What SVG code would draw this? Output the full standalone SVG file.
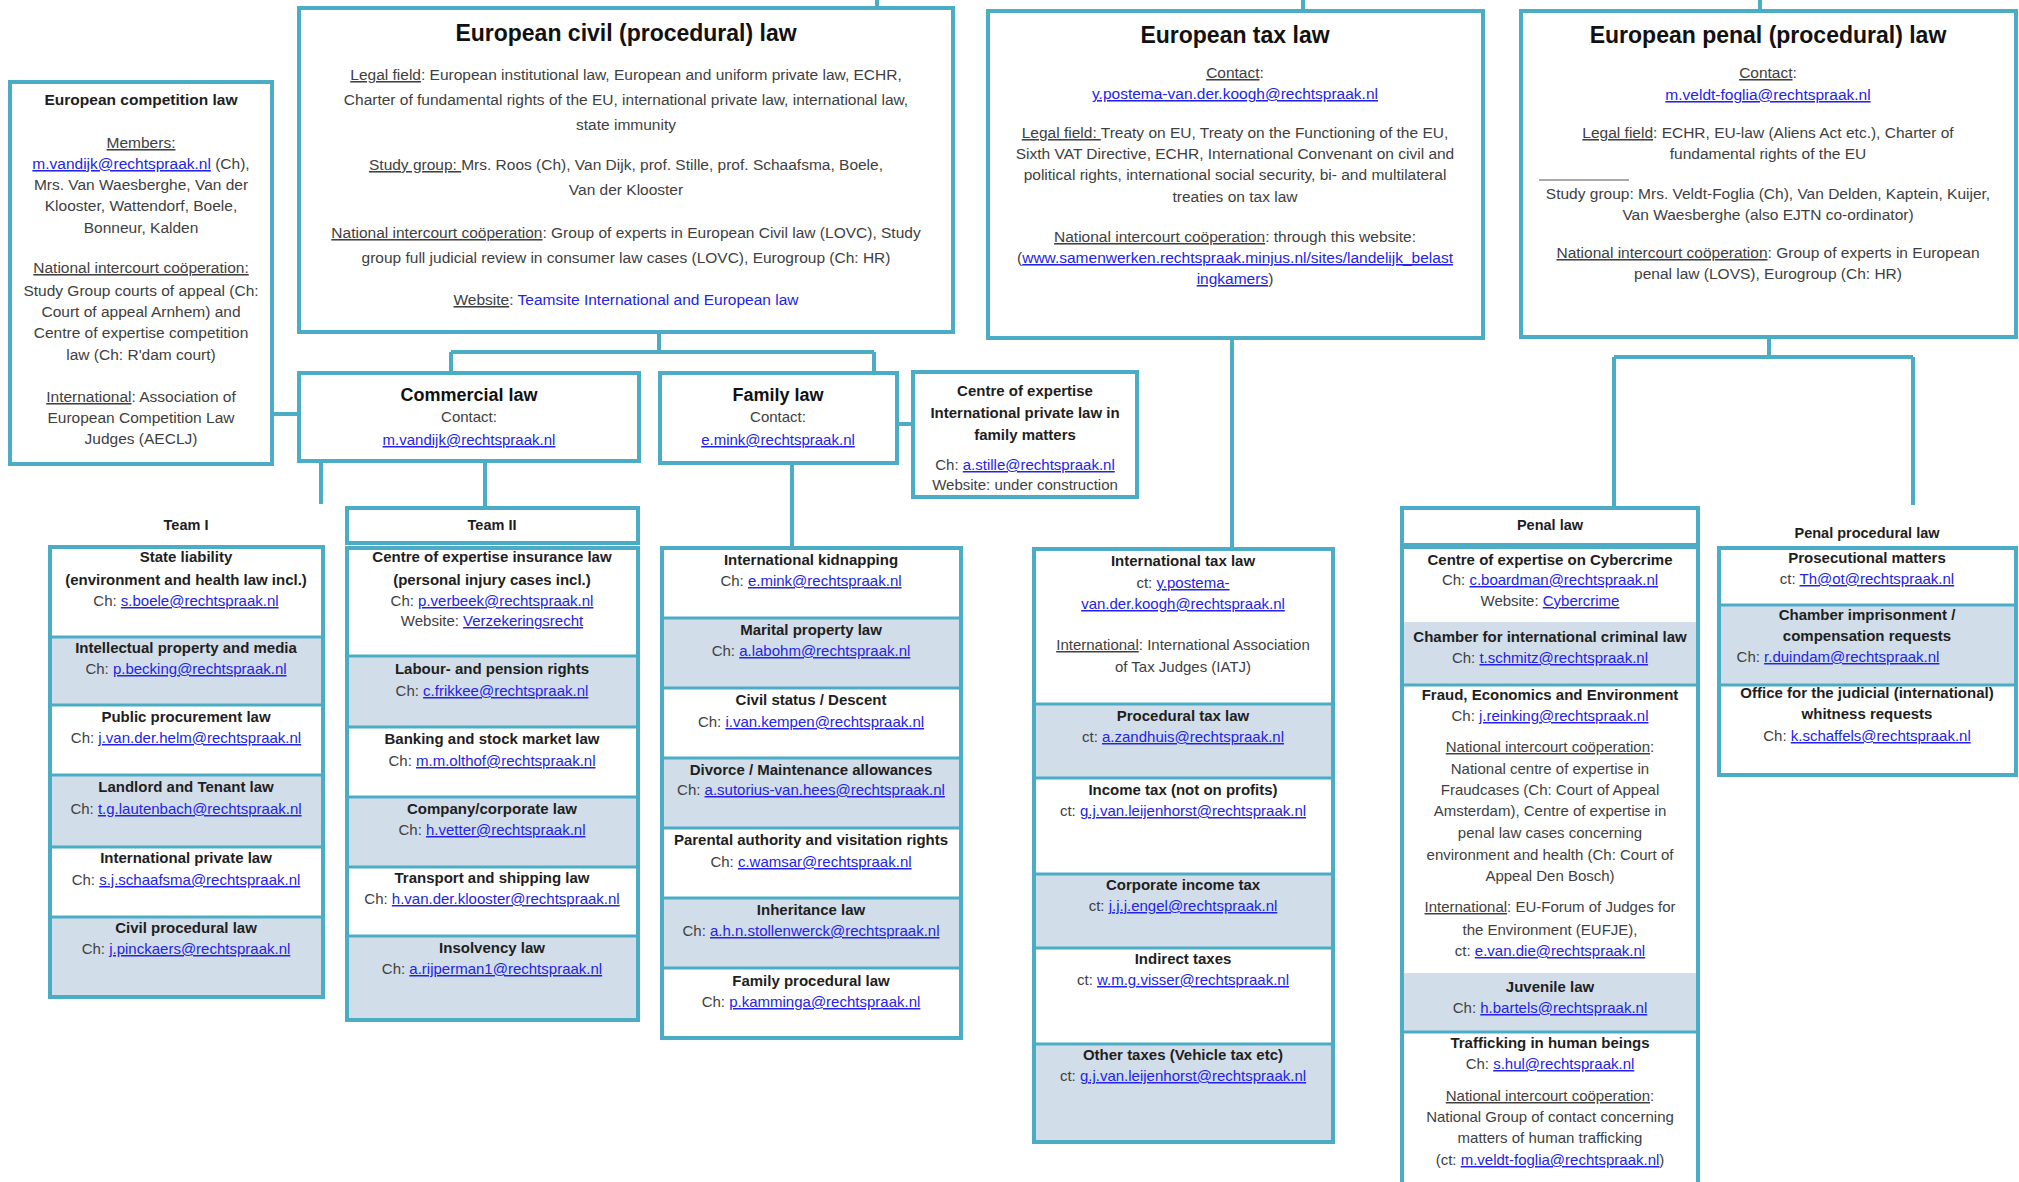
<svg xmlns="http://www.w3.org/2000/svg" width="2019" height="1182" viewBox="0 0 2019 1182">
<style>
text{font-family:"Liberation Sans",Arial,sans-serif;font-size:15px;fill:#404040;text-anchor:middle}
.m{font-size:15.5px}
.b{font-weight:bold;fill:#1e1e1e}
.t{font-size:23px;font-weight:bold;fill:#111}
.h{font-size:18px;font-weight:bold;fill:#111}
.lk{fill:#2323e8;text-decoration:underline}
.bl2{fill:#2323e8}
.u{text-decoration:underline}
.bx{fill:#fff;stroke:#4bacc6;stroke-width:4}
.fr{fill:none;stroke:#4bacc6;stroke-width:4}
.cn{fill:none;stroke:#4bacc6;stroke-width:4}
.sep{stroke:#4bacc6;stroke-width:3}
.rb{fill:#d1dde9}
</style>
<rect width="2019" height="1182" fill="#fff"/>

<g id="connectors">
<path class="cn" d="M877,0V8M1303,0V11M1760,0V11"/>
<path class="cn" d="M272,414H299"/>
<path class="cn" d="M659,332V352M451,352H874M451,352V373M874,352V373"/>
<path class="cn" d="M897,424H913"/>
<path class="cn" d="M321,461V504M485,461V508M792,463V548"/>
<path class="cn" d="M1232,338V549"/>
<path class="cn" d="M1769,337V357M1614,357H1913M1614,357V508M1913,357V505"/>
</g>

<g id="competition">
<rect class="bx" x="10" y="82" width="262" height="382"/>
<text class="m b" x="141" y="105">European competition law</text>
<text class="m u" x="141" y="148">Members:</text>
<text class="m" x="141" y="169"><tspan class="lk">m.vandijk@rechtspraak.nl</tspan> (Ch),</text>
<text class="m" x="141" y="190">Mrs. Van Waesberghe, Van der</text>
<text class="m" x="141" y="211">Klooster, Wattendorf, Boele,</text>
<text class="m" x="141" y="233">Bonneur, Kalden</text>
<text class="m u" x="141" y="273">National intercourt coöperation:</text>
<text class="m" x="141" y="296">Study Group courts of appeal  (Ch:</text>
<text class="m" x="141" y="317">Court of appeal Arnhem) and</text>
<text class="m" x="141" y="338">Centre of expertise competition</text>
<text class="m" x="141" y="360">law (Ch: R'dam court)</text>
<text class="m" x="141" y="402"><tspan class="u">International</tspan>: Association of</text>
<text class="m" x="141" y="423">European Competition Law</text>
<text class="m" x="141" y="444">Judges (AECLJ)</text>
</g>

<g id="civil">
<rect class="bx" x="299" y="8" width="654" height="324"/>
<text class="t" x="626" y="41">European  civil (procedural) law</text>
<text class="m" x="626" y="80"><tspan class="u">Legal field</tspan>: European institutional law, European and uniform private law, ECHR,</text>
<text class="m" x="626" y="105">Charter of fundamental rights of the EU,  international private law, international law,</text>
<text class="m" x="626" y="130">state immunity</text>
<text class="m" x="626" y="170"><tspan class="u">Study group: </tspan>Mrs. Roos (Ch), Van Dijk, prof. Stille, prof. Schaafsma, Boele,</text>
<text class="m" x="626" y="195">Van der Klooster</text>
<text class="m" x="626" y="238"><tspan class="u">National intercourt coöperation</tspan>: Group of experts in European Civil law (LOVC), Study</text>
<text class="m" x="626" y="263">group full judicial review in consumer law cases (LOVC), Eurogroup (Ch:  HR)</text>
<text class="m" x="626" y="305"><tspan class="u">Website</tspan>: <tspan class="bl2">Teamsite International and European law</tspan></text>
</g>

<g id="tax">
<rect class="bx" x="988" y="11" width="495" height="327"/>
<text class="t" x="1235" y="43">European  tax law</text>
<text class="m" x="1235" y="78"><tspan class="u">Contact</tspan>:</text>
<text class="m" x="1235" y="99"><tspan class="lk">y.postema-van.der.koogh@rechtspraak.nl</tspan></text>
<text class="m" x="1235" y="138"><tspan class="u">Legal field: </tspan>Treaty on EU, Treaty on the Functioning of the EU,</text>
<text class="m" x="1235" y="159">Sixth VAT Directive, ECHR,  International Convenant on civil and</text>
<text class="m" x="1235" y="180">political rights, international social security, bi- and multilateral</text>
<text class="m" x="1235" y="202">treaties on tax law</text>
<text class="m" x="1235" y="242"><tspan class="u">National intercourt coöperation</tspan>: through this website:</text>
<text class="m" x="1235" y="263">(<tspan class="lk">www.samenwerken.rechtspraak.minjus.nl/sites/landelijk_belast</tspan></text>
<text class="m" x="1235" y="284"><tspan class="lk">ingkamers</tspan>)</text>
</g>

<g id="penal">
<rect class="bx" x="1521" y="11" width="495" height="326"/>
<text class="t" x="1768" y="43">European  penal (procedural) law</text>
<text class="m" x="1768" y="78"><tspan class="u">Contact</tspan>:</text>
<text class="m" x="1768" y="100"><tspan class="lk">m.veldt-foglia@rechtspraak.nl</tspan></text>
<text class="m" x="1768" y="138"><tspan class="u">Legal field</tspan>: ECHR, EU-law (Aliens Act etc.),  Charter of</text>
<text class="m" x="1768" y="159">fundamental rights of the EU</text>
<path d="M1539,180H1629" stroke="#555" stroke-width="1.2"/>
<text class="m" x="1768" y="199">Study group: Mrs. Veldt-Foglia (Ch), Van Delden, Kaptein, Kuijer,</text>
<text class="m" x="1768" y="220">Van Waesberghe (also EJTN co-ordinator)</text>
<text class="m" x="1768" y="258"><tspan class="u">National intercourt coöperation</tspan>: Group of experts in European</text>
<text class="m" x="1768" y="279">penal law (LOVS), Eurogroup (Ch: HR)</text>
</g>

<g id="commercial">
<rect class="bx" x="299" y="373" width="340" height="88"/>
<text class="h" x="469" y="401">Commercial law</text>
<text x="469" y="422">Contact:</text>
<text x="469" y="445"><tspan class="lk">m.vandijk@rechtspraak.nl</tspan></text>
</g>

<g id="family">
<rect class="bx" x="660" y="373" width="237" height="90"/>
<text class="h" x="778" y="401">Family law</text>
<text x="778" y="422">Contact:</text>
<text x="778" y="445"><tspan class="lk">e.mink@rechtspraak.nl</tspan></text>
</g>

<g id="centre-ipl">
<rect class="bx" x="913" y="372" width="224" height="125"/>
<text class="b" x="1025" y="396">Centre of expertise</text>
<text class="b" x="1025" y="418">International private law in</text>
<text class="b" x="1025" y="440">family matters</text>
<text x="1025" y="470">Ch: <tspan class="lk">a.stille@rechtspraak.nl</tspan></text>
<text x="1025" y="490">Website: under construction</text>
</g>

<g id="team1">
<text class="b" x="186" y="530" style="font-size:14.5px">Team I</text>
<rect x="50" y="547" width="273" height="450" fill="#fff"/>
<rect class="rb" x="50" y="637" width="273" height="68"/>
<rect class="rb" x="50" y="775" width="273" height="72"/>
<rect class="rb" x="50" y="917" width="273" height="80"/>
<path class="sep" d="M50,637H323M50,705H323M50,775H323M50,847H323M50,917H323"/>
<rect class="fr" x="50" y="547" width="273" height="450"/>
<text class="b" x="186" y="562">State liability</text>
<text class="b" x="186" y="585">(environment and health law incl.)</text>
<text x="186" y="606">Ch: <tspan class="lk">s.boele@rechtspraak.nl</tspan></text>
<text class="b" x="186" y="653">Intellectual property and media</text>
<text x="186" y="674">Ch: <tspan class="lk">p.becking@rechtspraak.nl</tspan></text>
<text class="b" x="186" y="722">Public procurement law</text>
<text x="186" y="743">Ch: <tspan class="lk">j.van.der.helm@rechtspraak.nl</tspan></text>
<text class="b" x="186" y="792">Landlord and Tenant law</text>
<text x="186" y="814">Ch: <tspan class="lk">t.g.lautenbach@rechtspraak.nl</tspan></text>
<text class="b" x="186" y="863">International private law</text>
<text x="186" y="885">Ch: <tspan class="lk">s.j.schaafsma@rechtspraak.nl</tspan></text>
<text class="b" x="186" y="933">Civil procedural law</text>
<text x="186" y="954">Ch: <tspan class="lk">j.pinckaers@rechtspraak.nl</tspan></text>
</g>

<g id="team2">
<rect class="bx" x="347" y="508" width="291" height="35"/>
<text class="b" x="492" y="530" style="font-size:14.5px">Team II</text>
<rect x="347" y="548" width="291" height="472" fill="#fff"/>
<rect class="rb" x="347" y="656" width="291" height="71"/>
<rect class="rb" x="347" y="797" width="291" height="70"/>
<rect class="rb" x="347" y="936" width="291" height="84"/>
<path class="sep" d="M347,656H638M347,727H638M347,797H638M347,867H638M347,936H638"/>
<rect class="fr" x="347" y="548" width="291" height="472"/>
<text class="b" x="492" y="562">Centre of expertise insurance law</text>
<text class="b" x="492" y="585">(personal injury cases incl.)</text>
<text x="492" y="606">Ch: <tspan class="lk">p.verbeek@rechtspraak.nl</tspan></text>
<text x="492" y="626">Website: <tspan class="lk">Verzekeringsrecht</tspan></text>
<text class="b" x="492" y="674">Labour- and pension rights</text>
<text x="492" y="696">Ch: <tspan class="lk">c.frikkee@rechtspraak.nl</tspan></text>
<text class="b" x="492" y="744">Banking and stock market law</text>
<text x="492" y="766">Ch: <tspan class="lk">m.m.olthof@rechtspraak.nl</tspan></text>
<text class="b" x="492" y="814">Company/corporate law</text>
<text x="492" y="835">Ch: <tspan class="lk">h.vetter@rechtspraak.nl</tspan></text>
<text class="b" x="492" y="883">Transport and shipping law</text>
<text x="492" y="904">Ch: <tspan class="lk">h.van.der.klooster@rechtspraak.nl</tspan></text>
<text class="b" x="492" y="953">Insolvency law</text>
<text x="492" y="974">Ch: <tspan class="lk">a.rijperman1@rechtspraak.nl</tspan></text>
</g>

<g id="family-col">
<rect x="662" y="548" width="299" height="490" fill="#fff"/>
<rect class="rb" x="662" y="618" width="299" height="70"/>
<rect class="rb" x="662" y="758" width="299" height="70"/>
<rect class="rb" x="662" y="898" width="299" height="70"/>
<path class="sep" d="M662,618H961M662,688H961M662,758H961M662,828H961M662,898H961M662,968H961"/>
<rect class="fr" x="662" y="548" width="299" height="490"/>
<text class="b" x="811" y="565">International kidnapping</text>
<text x="811" y="586">Ch: <tspan class="lk">e.mink@rechtspraak.nl</tspan></text>
<text class="b" x="811" y="635">Marital property law</text>
<text x="811" y="656">Ch: <tspan class="lk">a.labohm@rechtspraak.nl</tspan></text>
<text class="b" x="811" y="705">Civil status / Descent</text>
<text x="811" y="727">Ch: <tspan class="lk">i.van.kempen@rechtspraak.nl</tspan></text>
<text class="b" x="811" y="775">Divorce / Maintenance allowances</text>
<text x="811" y="795">Ch:  <tspan class="lk">a.sutorius-van.hees@rechtspraak.nl</tspan></text>
<text class="b" x="811" y="845">Parental authority and visitation rights</text>
<text x="811" y="867">Ch: <tspan class="lk">c.wamsar@rechtspraak.nl</tspan></text>
<text class="b" x="811" y="915">Inheritance law</text>
<text x="811" y="936">Ch: <tspan class="lk">a.h.n.stollenwerck@rechtspraak.nl</tspan></text>
<text class="b" x="811" y="986">Family procedural law</text>
<text x="811" y="1007">Ch: <tspan class="lk">p.kamminga@rechtspraak.nl</tspan></text>
</g>

<g id="tax-col">
<rect x="1034" y="549" width="299" height="593" fill="#fff"/>
<rect class="rb" x="1034" y="704" width="299" height="74"/>
<rect class="rb" x="1034" y="874" width="299" height="74"/>
<rect class="rb" x="1034" y="1044" width="299" height="98"/>
<path class="sep" d="M1034,704H1333M1034,778H1333M1034,874H1333M1034,948H1333M1034,1044H1333"/>
<rect class="fr" x="1034" y="549" width="299" height="593"/>
<text class="b" x="1183" y="566">International tax law</text>
<text x="1183" y="588">ct: <tspan class="lk">y.postema-</tspan></text>
<text x="1183" y="609"><tspan class="lk">van.der.koogh@rechtspraak.nl</tspan></text>
<text x="1183" y="650"><tspan class="u">International</tspan>: International Association</text>
<text x="1183" y="672">of Tax Judges (IATJ)</text>
<text class="b" x="1183" y="721">Procedural tax law</text>
<text x="1183" y="742">ct: <tspan class="lk">a.zandhuis@rechtspraak.nl</tspan></text>
<text class="b" x="1183" y="795">Income tax (not on profits)</text>
<text x="1183" y="816">ct: <tspan class="lk">g.j.van.leijenhorst@rechtspraak.nl</tspan></text>
<text class="b" x="1183" y="890">Corporate income tax</text>
<text x="1183" y="911">ct: <tspan class="lk">j.j.j.engel@rechtspraak.nl</tspan></text>
<text class="b" x="1183" y="964">Indirect taxes</text>
<text x="1183" y="985">ct: <tspan class="lk">w.m.g.visser@rechtspraak.nl</tspan></text>
<text class="b" x="1183" y="1060">Other taxes (Vehicle tax etc)</text>
<text x="1183" y="1081">ct: <tspan class="lk">g.j.van.leijenhorst@rechtspraak.nl</tspan></text>
</g>

<g id="penal-law">
<rect class="bx" x="1402" y="508" width="296" height="37"/>
<text class="b" x="1550" y="530" style="font-size:14.5px">Penal law</text>
<rect x="1402" y="547" width="296" height="660" fill="#fff"/>
<rect class="rb" x="1402" y="622" width="296" height="63"/>
<rect class="rb" x="1402" y="973" width="296" height="59"/>
<path class="sep" d="M1402,685H1698M1402,1032H1698"/>
<rect class="fr" x="1402" y="547" width="296" height="660"/>
<text class="b" x="1550" y="565">Centre of expertise on Cybercrime</text>
<text x="1550" y="585">Ch: <tspan class="lk">c.boardman@rechtspraak.nl</tspan></text>
<text x="1550" y="606">Website: <tspan class="lk">Cybercrime</tspan></text>
<text class="b" x="1550" y="642">Chamber for international criminal law</text>
<text x="1550" y="663">Ch: <tspan class="lk">t.schmitz@rechtspraak.nl</tspan></text>
<text class="b" x="1550" y="700">Fraud, Economics  and Environment</text>
<text x="1550" y="721">Ch: <tspan class="lk">j.reinking@rechtspraak.nl</tspan></text>
<text x="1550" y="752"><tspan class="u">National intercourt coöperation</tspan>:</text>
<text x="1550" y="774">National centre of expertise in</text>
<text x="1550" y="795">Fraudcases (Ch: Court of Appeal</text>
<text x="1550" y="816">Amsterdam), Centre of expertise in</text>
<text x="1550" y="838">penal law cases concerning</text>
<text x="1550" y="860">environment and health (Ch: Court of</text>
<text x="1550" y="881">Appeal Den Bosch)</text>
<text x="1550" y="912"><tspan class="u">International</tspan>: EU-Forum of Judges for</text>
<text x="1550" y="935">the Environment (EUFJE),</text>
<text x="1550" y="956">ct: <tspan class="lk">e.van.die@rechtspraak.nl</tspan></text>
<text class="b" x="1550" y="992">Juvenile law</text>
<text x="1550" y="1013">Ch: <tspan class="lk">h.bartels@rechtspraak.nl</tspan></text>
<text class="b" x="1550" y="1048">Trafficking  in  human beings</text>
<text x="1550" y="1069">Ch: <tspan class="lk">s.hul@rechtspraak.nl</tspan></text>
<text x="1550" y="1101"><tspan class="u">National intercourt coöperation</tspan>:</text>
<text x="1550" y="1122">National Group of contact concerning</text>
<text x="1550" y="1143">matters of human trafficking</text>
<text x="1550" y="1165">(ct: <tspan class="lk">m.veldt-foglia@rechtspraak.nl</tspan>)</text>
</g>

<g id="penal-procedural">
<text class="b" x="1867" y="538" style="font-size:14.5px">Penal procedural law</text>
<rect x="1719" y="548" width="297" height="227" fill="#fff"/>
<rect class="rb" x="1719" y="605" width="297" height="80"/>
<path class="sep" d="M1719,605H2016M1719,685H2016"/>
<rect class="fr" x="1719" y="548" width="297" height="227"/>
<text class="b" x="1867" y="563">Prosecutional matters</text>
<text x="1867" y="584">ct: <tspan class="lk">Th@ot@rechtspraak.nl</tspan></text>
<text class="b" x="1867" y="620">Chamber imprisonment /</text>
<text class="b" x="1867" y="641">compensation requests</text>
<text x="1838" y="662">Ch: <tspan class="lk">r.duindam@rechtspraak.nl</tspan></text>
<text class="b" x="1867" y="698">Office for the judicial  (international)</text>
<text class="b" x="1867" y="719">whitness requests</text>
<text x="1867" y="741">Ch: <tspan class="lk">k.schaffels@rechtspraak.nl</tspan></text>
</g>
</svg>
